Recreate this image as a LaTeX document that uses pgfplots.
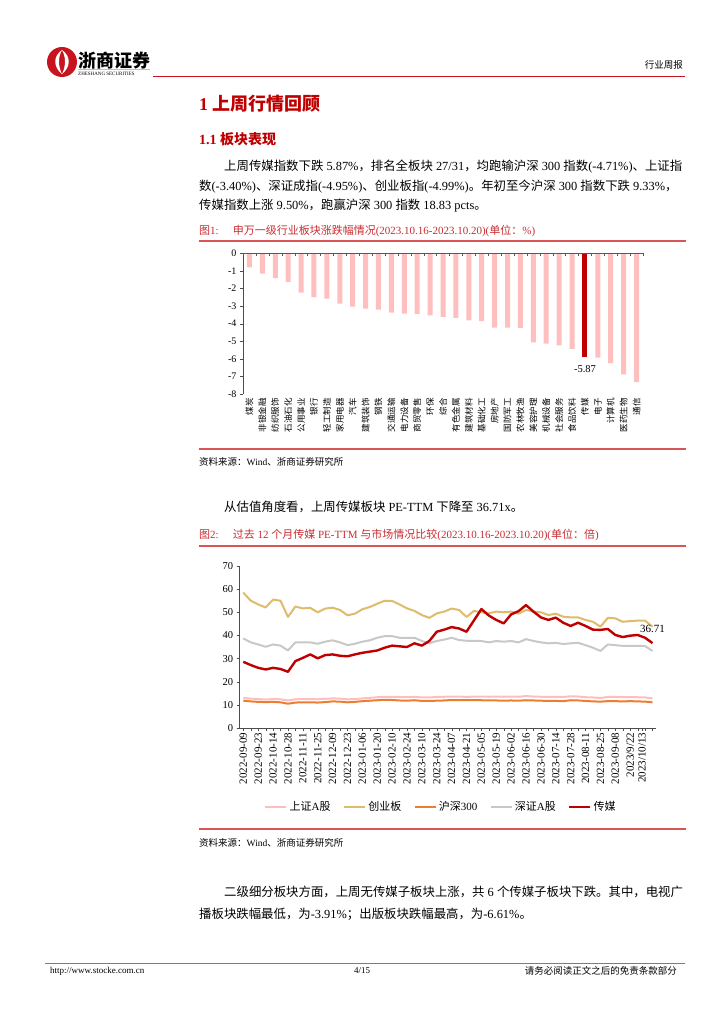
\documentclass[border=0pt]{standalone}
\usepackage{fontspec}
\setmainfont{Liberation Serif}
\newfontfamily\cjk{Noto Sans CJK SC}
\usepackage{pgfplots}
\usepackage{pgfplotstable}
\pgfplotsset{compat=1.18}

\definecolor{logored}{RGB}{200,20,30}
\definecolor{titlered}{RGB}{192,0,0}
\definecolor{caprd}{RGB}{200,45,50}
\definecolor{rulered}{RGB}{215,85,85}
\definecolor{rulepink}{RGB}{240,170,170}
\definecolor{barpink}{RGB}{255,191,191}
\definecolor{barred}{RGB}{192,0,0}
\definecolor{shpink}{RGB}{255,190,190}
\definecolor{cybgold}{RGB}{222,188,108}
\definecolor{hsorange}{RGB}{237,125,49}
\definecolor{szgray}{RGB}{200,200,200}
\definecolor{cmred}{RGB}{192,0,0}

\newcommand\zh[1]{{\cjk #1}}
\newcommand\fs[1]{\fontsize{#1}{#1}\selectfont}

% PE-TTM, weekly
\pgfplotstableread{
idx sh   cyb  hs   sz   cm
0  13.0 58.5 11.8 38.7 28.6
1  12.7 55.0 11.5 37.0 27.2
2  12.5 53.4 11.3 36.1 26.0
3  12.3 52.1 11.2 35.1 25.3
4  12.5 55.5 11.3 36.1 26.0
5  12.4 55.0 11.1 35.6 25.5
6  11.9 48.0 10.5 33.5 24.3
7  12.4 52.5 11.0 37.0 28.9
8  12.5 51.7 11.1 37.0 30.3
9  12.5 51.9 11.1 37.0 31.8
10 12.4 50.0 11.0 36.4 30.1
11 12.6 51.6 11.2 37.3 31.5
12 12.8 52.0 11.5 37.9 31.8
13 12.7 51.0 11.4 37.0 31.2
14 12.4 48.7 11.1 35.8 31.0
15 12.5 49.4 11.3 36.4 31.8
16 12.8 51.3 11.6 37.3 32.5
17 13.0 52.3 11.8 37.9 33.0
18 13.3 53.7 12.0 39.0 33.5
19 13.5 55.0 12.2 39.7 34.7
20 13.5 54.9 12.1 39.7 35.6
21 13.4 53.4 11.9 39.0 35.3
22 13.3 51.7 11.8 39.0 35.0
23 13.5 50.6 12.0 39.0 36.6
24 13.2 48.8 11.7 37.6 35.6
25 13.2 47.6 11.7 36.6 37.6
26 13.4 49.5 11.8 37.6 41.6
27 13.5 50.3 11.9 38.2 42.5
28 13.6 51.6 12.1 39.0 43.6
29 13.6 51.0 12.1 38.0 43.0
30 13.4 48.0 12.0 37.7 41.6
31 13.6 50.6 12.0 37.7 46.5
32 13.6 50.0 12.0 37.6 51.4
33 13.5 49.6 11.9 37.0 48.6
34 13.6 50.3 11.9 37.6 46.7
35 13.5 50.0 11.8 37.3 45.2
36 13.6 50.3 11.9 37.6 49.1
37 13.5 49.4 11.8 37.0 50.5
38 13.8 51.0 12.0 38.4 53.1
39 13.6 50.3 11.9 37.6 50.3
40 13.5 50.0 11.8 37.0 47.8
41 13.4 48.8 11.7 36.6 46.7
42 13.5 49.4 11.7 36.8 47.7
43 13.4 48.1 11.6 36.3 45.5
44 13.7 47.8 12.0 36.6 44.1
45 13.6 47.8 11.9 36.8 45.5
46 13.3 46.7 11.7 35.8 44.1
47 13.2 45.9 11.5 34.7 42.5
48 13.0 43.8 11.4 33.3 42.4
49 13.4 47.6 11.6 36.1 42.8
50 13.4 47.4 11.6 35.8 40.2
51 13.3 45.9 11.5 35.5 39.3
52 13.3 46.2 11.6 35.5 39.9
53 13.3 46.4 11.5 35.5 40.2
54 13.2 46.4 11.4 35.4 39.0
55 12.8 43.8 11.1 33.3 36.71
}\petable

\begin{document}
\begin{tikzpicture}
\fill[white] (0,0) rectangle (724pt,-1024pt);
\path[use as bounding box] (0,0) rectangle (724pt,-1024pt);

\begin{scope}[x=1pt,y=-1pt,every node/.style={inner sep=0pt,anchor=west}]
% header
\fill[logored] (62,62) circle (15pt);
\fill[white] (62,50) .. controls (53,56) and (53,67) .. (62,74)
  .. controls (58,66) and (58,57) .. (62,50) -- cycle;
\fill[white] (62,50) .. controls (71,56) and (71,67) .. (62,74)
  .. controls (66,66) and (66,57) .. (62,50) -- cycle;
\fill[logored] (62,62) circle (2.5pt);
\node at (78,60.5) {\cjk\bfseries\fs{18}浙商证券};
\draw[rulepink,line width=1.2pt] (78,69.5) -- (150,69.5);
\node at (78,74) {\fs{5}ZHESHANG SECURITIES};
\draw[logored,line width=1.8pt] (153,76.5) -- (685,76.5);
\node[anchor=east] at (683,65) {\cjk\fs{9.5}行业周报};

% section titles
\node[text=titlered] at (199,104) {\bfseries\fs{18}1 \zh{上周行情回顾}};
\node[text=titlered] at (199,139.5) {\bfseries\fs{14}1.1 \zh{板块表现}};

\node at (224,167) {\fs{12.4}\zh{上周传媒指数下跌} 5.87\%\zh{，排名全板块} 27/31\zh{，均跑输沪深} 300 \zh{指数}(-4.71\%)\zh{、上证指}};
\node at (199,186.5) {\fs{12.4}\zh{数}(-3.40\%)\zh{、深证成指}(-4.95\%)\zh{、创业板指}(-4.99\%)\zh{。年初至今沪深} 300 \zh{指数下跌} 9.33\%\zh{，}};
\node at (199,206) {\fs{12.4}\zh{传媒指数上涨} 9.50\%\zh{，跑赢沪深} 300 \zh{指数} 18.83 pcts\zh{。}};

% figure 1 caption
\node[text=caprd] at (199,231) {\fs{11}\zh{图}1:\hspace{14pt}\zh{申万一级行业板块涨跌幅情况}(2023.10.16-2023.10.20)(\zh{单位：}\%)};
\draw[rulered,line width=1.1pt] (199,241) -- (686,241);

\draw[rulered,line width=1.1pt] (199,449) -- (686,449);
\node at (199,462) {\fs{9.5}\zh{资料来源：}Wind\zh{、浙商证券研究所}};

\node at (224,507) {\fs{12.4}\zh{从估值角度看，上周传媒板块} PE-TTM \zh{下降至} 36.71x\zh{。}};

% figure 2 caption
\node[text=caprd] at (199,535) {\fs{11}\zh{图}2:\hspace{14pt}\zh{过去} 12 \zh{个月传媒} PE-TTM \zh{与市场情况比较}(2023.10.16-2023.10.20)(\zh{单位：倍})};
\draw[rulered,line width=1.1pt] (199,546) -- (686,546);

\draw[rulered,line width=1.1pt] (199,829) -- (686,829);
\node at (199,843) {\fs{9.5}\zh{资料来源：}Wind\zh{、浙商证券研究所}};

\node at (224,892) {\fs{12.4}\zh{二级细分板块方面，上周无传媒子板块上涨，共} 6 \zh{个传媒子板块下跌。其中，电视广}};
\node at (199,914) {\fs{12.4}\zh{播板块跌幅最低，为}-3.91\%\zh{；出版板块跌幅最高，为}-6.61\%\zh{。}};

% footer
\draw[rulered,line width=0.9pt] (45,963) -- (685,963);
\node at (50,971) {\fs{9}http://www.stocke.com.cn};
\node[anchor=center] at (362,971) {\fs{9}4/15};
\node[anchor=east] at (677,971) {\cjk\fs{9.5}请务必阅读正文之后的免责条款部分};
\end{scope}

% ---- figure 1: bars ----
\begin{axis}[
    at={(243pt,-394pt)}, anchor=south west, scale only axis,
    width=400pt, height=140.7pt,
    xmin=-0.5, xmax=30.5, ymin=-8, ymax=0,
    axis y line*=left, axis x line*=bottom,
    axis line style={-,black!70},
    x axis line style={draw=none},
    tick align=outside, major tick length=3pt,
    tick style={black!70},
    ytick={-8,...,0},
    xtick={0,...,30}, xtick style={draw=none},
    xticklabels={煤炭,非银金融,纺织服饰,石油石化,公用事业,银行,轻工制造,家用电器,汽车,建筑装饰,钢铁,交通运输,电力设备,商贸零售,环保,综合,有色金属,建筑材料,基础化工,房地产,国防军工,农林牧渔,美容护理,机械设备,社会服务,食品饮料,传媒,电子,计算机,医药生物,通信},
    xticklabel style={font=\cjk\fs{8.5},rotate=90,anchor=east,inner sep=1pt},
    yticklabel style={font=\fs{10}},
    /pgf/number format/assume math mode=true,
    clip=false,
]
\addplot[ybar, bar width=5pt, bar shift=0pt, fill=barpink, draw=none] coordinates {
 (0,-0.80) (1,-1.16) (2,-1.41) (3,-1.62) (4,-2.24) (5,-2.49) (6,-2.58) (7,-2.86)
 (8,-3.03) (9,-3.15) (10,-3.20) (11,-3.37) (12,-3.43) (13,-3.44) (14,-3.53) (15,-3.62)
 (16,-3.67) (17,-3.82) (18,-3.86) (19,-4.22) (20,-4.22) (21,-4.24) (22,-5.07) (23,-5.13)
 (24,-5.24) (25,-5.43) (27,-5.93) (28,-6.25) (29,-6.89) (30,-7.33)
};
\addplot[ybar, bar width=5pt, bar shift=0pt, fill=barred, draw=none] coordinates {(26,-5.87)};
\node[font=\fs{10.5},anchor=north,yshift=-5pt] at (axis cs:26,-5.87) {-5.87};
\end{axis}
% top axis line with category separators
\begin{axis}[
    at={(243pt,-394pt)}, anchor=south west, scale only axis,
    width=400pt, height=140.7pt,
    xmin=-0.5, xmax=30.5, ymin=-8, ymax=0,
    axis x line*=top, axis y line=none,
    axis line style={-,black!65},
    tick style={black!65},
    xtick={-0.5,0.5,...,30.5}, xticklabels={},
    tick align=inside, major tick length=3pt,
]
\end{axis}

% ---- figure 2: PE-TTM lines ----
\begin{axis}[
    at={(239.6pt,-728pt)}, anchor=south west, scale only axis,
    width=416.6pt, height=162pt,
    xmin=-0.5, xmax=55.5, ymin=0, ymax=70,
    axis lines*=left,
    axis line style={-,black!70},
    tick style={black!70},
    tick align=outside, major tick length=3pt, minor tick length=2.5pt,
    ytick={0,10,...,70},
    xtick={0,2,...,52,53.6},
    minor xtick={0,...,55},
    xticklabels={2022-09-09,2022-09-23,2022-10-14,2022-10-28,2022-11-11,2022-11-25,2022-12-09,2022-12-23,2023-01-06,2023-01-20,2023-02-10,2023-02-24,2023-03-10,2023-03-24,2023-04-07,2023-04-21,2023-05-05,2023-05-19,2023-06-02,2023-06-16,2023-06-30,2023-07-14,2023-07-28,2023-08-11,2023-08-25,2023-09-08,2023/9/22,2023/10/13},
    xticklabel style={font=\fs{11},rotate=90,anchor=east,inner sep=1.5pt},
    yticklabel style={font=\fs{10.5}},
    /pgf/number format/assume math mode=true,
    clip=false,
    legend columns=5,
    legend style={at={(0.483,-0.488)}, anchor=center, draw=none, fill=none,
        font=\fs{11}, /tikz/every even column/.append style={column sep=10pt}},
    legend image code/.code={\draw[#1,line width=2.6pt] (0pt,0pt) -- (21pt,0pt);},
    every axis plot/.append style={line join=round},
]
\addplot[shpink, line width=2pt] table[x=idx,y=sh] {\petable};
\addplot[cybgold, line width=2pt] table[x=idx,y=cyb] {\petable};
\addplot[hsorange, line width=2pt] table[x=idx,y=hs] {\petable};
\addplot[szgray, line width=2pt] table[x=idx,y=sz] {\petable};
\addplot[cmred, line width=2.4pt] table[x=idx,y=cm] {\petable};
\legend{\zh{上证}A\zh{股},\zh{创业板},\zh{沪深}300,\zh{深证}A\zh{股},\zh{传媒}}
\node[font=\fs{11},anchor=south,yshift=7pt] at (axis cs:55,36.71) {36.71};
\end{axis}
\end{tikzpicture}
\end{document}
